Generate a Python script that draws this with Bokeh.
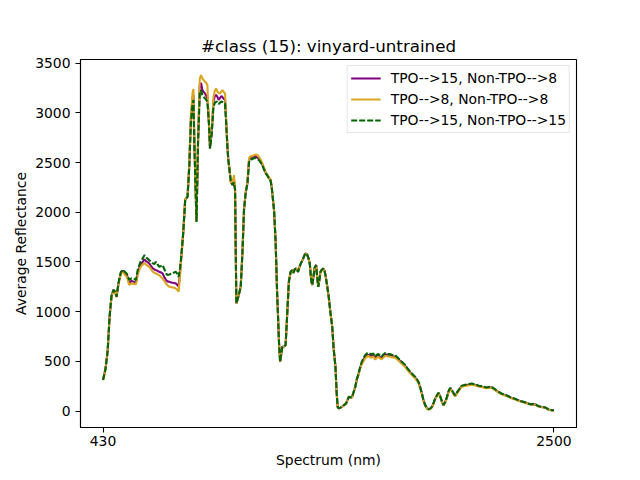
from bokeh.plotting import figure
from bokeh.models import Range1d, FixedTicker, Legend, LegendItem
from bokeh.embed import file_html
from bokeh.resources import INLINE

title_text = "#class (15): vinyard-untrained"
x_label = "Spectrum (nm)"
y_label = "Average Reflectance"
x_ticks = [430, 2500]
y_ticks = [0, 500, 1000, 1500, 2000, 2500, 3000, 3500]
series_names = ["TPO-->15, Non-TPO-->8", "TPO-->8, Non-TPO-->8", "TPO-->15, Non-TPO-->15"]

wavelength = [
    430, 441, 451, 460, 469, 478, 485, 492, 501, 512,
    522, 531, 540, 550, 561, 572, 581, 590, 602, 612,
    620, 629, 642, 650, 658, 666, 673, 680, 688, 696,
    703, 711, 719, 726, 734, 741, 749, 757, 764, 771,
    777, 783, 789, 798, 807, 818, 826, 833, 841, 845,
    849, 859, 866, 874, 880, 886, 892, 898, 904, 909,
    913, 917, 921, 929, 937, 943, 949, 955, 961, 967,
    973, 978, 984, 990, 996, 1001, 1005, 1012, 1016, 1024,
    1031, 1036, 1042, 1051, 1062, 1070, 1077, 1085, 1093, 1100,
    1105, 1115, 1123, 1131, 1138, 1146, 1154, 1161, 1169, 1177,
    1184, 1192, 1199, 1204, 1209, 1215, 1222, 1229, 1238, 1243,
    1253, 1260, 1268, 1276, 1283, 1291, 1298, 1304, 1311, 1318,
    1325, 1332, 1339, 1346, 1353, 1359, 1366, 1373, 1379, 1385,
    1390, 1396, 1401, 1408, 1413, 1418, 1424, 1428, 1434, 1441,
    1447, 1451, 1459, 1466, 1474, 1482, 1489, 1497, 1502, 1507,
    1512, 1520, 1527, 1536, 1546, 1552, 1558, 1565, 1573, 1580,
    1588, 1595, 1603, 1610, 1618, 1625, 1633, 1641, 1648, 1656,
    1664, 1671, 1679, 1686, 1694, 1702, 1709, 1717, 1725, 1732,
    1740, 1748, 1759, 1771, 1782, 1794, 1805, 1817, 1828, 1840,
    1851, 1863, 1871, 1878, 1886, 1894, 1901, 1909, 1917, 1924,
    1932, 1940, 1947, 1955, 1963, 1970, 1976, 1981, 1987, 1993,
    2001, 2009, 2016, 2024, 2030, 2036, 2042, 2047, 2054, 2062,
    2070, 2077, 2088, 2100, 2111, 2123, 2134, 2146, 2156, 2168,
    2179, 2190, 2200, 2212, 2223, 2235, 2246, 2258, 2268, 2280,
    2291, 2302, 2313, 2325, 2335, 2347, 2358, 2370, 2380, 2392,
    2403, 2415, 2421, 2430, 2437, 2445, 2452, 2460, 2467, 2475,
    2483, 2491, 2500,
]

tpo15_non8 = [
    312, 420, 600, 950, 1160, 1220, 1200, 1150, 1285, 1395,
    1410, 1385, 1365, 1290, 1310, 1300, 1290, 1400, 1470, 1500,
    1526, 1505, 1486, 1460, 1435, 1425, 1418, 1410, 1402, 1395,
    1385, 1350, 1318, 1305, 1301, 1295, 1291, 1288, 1284, 1270,
    1251, 1380, 1540, 1790, 2125, 2160, 2480, 2930, 3150, 3180,
    2720, 1904, 2700, 3280, 3300, 3229, 3210, 3196, 3170, 3150,
    3010, 2860, 2643, 2800, 3110, 3170, 3180, 3162, 3130, 3150,
    3170, 3160, 3140, 3140, 2880, 2660, 2530, 2400, 2310, 2280,
    2330, 2230, 1083, 1150, 1250, 1600, 2022, 2200, 2295, 2520,
    2550, 2555, 2560, 2560, 2550, 2540, 2510, 2480, 2440, 2395,
    2375, 2345, 2320, 2257, 2150, 2022, 1720, 1200, 681, 496,
    647, 647, 664, 1000, 1300, 1401, 1418, 1390, 1430, 1435,
    1400, 1450, 1490, 1519, 1560, 1586, 1580, 1540, 1486, 1330,
    1268, 1350, 1440, 1469, 1350, 1250, 1330, 1401, 1420, 1435,
    1410, 1368, 1260, 1150, 990, 848, 620, 446, 200, 43,
    27, 35, 43, 60, 77, 110, 144, 140, 138, 190,
    245, 318, 375, 432, 485, 515, 545, 560, 565, 555,
    555, 560, 535, 550, 560, 545, 535, 555, 570, 568,
    562, 560, 552, 550, 530, 503, 480, 455, 422, 390,
    362, 338, 313, 290, 236, 175, 108, 58, 28, 18,
    23, 41, 78, 125, 157, 181, 157, 125, 88, 58,
    92, 140, 196, 230, 210, 189, 165, 156, 180, 206,
    230, 250, 256, 262, 266, 272, 265, 257, 250, 246,
    240, 234, 238, 240, 226, 207, 191, 175, 166, 158,
    147, 135, 127, 118, 108, 99, 93, 85, 76, 68,
    70, 68, 56, 48, 43, 41, 38, 35, 27, 16,
    11, 9, 7,
]

tpo8_non8 = [
    312, 420, 600, 950, 1155, 1215, 1195, 1145, 1280, 1390,
    1400, 1370, 1350, 1270, 1285, 1280, 1275, 1380, 1450, 1475,
    1490, 1470, 1452, 1430, 1402, 1390, 1385, 1375, 1368, 1350,
    1335, 1310, 1285, 1265, 1251, 1248, 1244, 1240, 1234, 1220,
    1201, 1350, 1530, 1795, 2130, 2165, 2500, 2960, 3200, 3240,
    2750, 1904, 2700, 3340, 3380, 3347, 3330, 3313, 3300, 3280,
    3050, 2870, 2660, 2820, 3160, 3220, 3246, 3213, 3200, 3196,
    3215, 3229, 3210, 3196, 2900, 2680, 2540, 2410, 2300, 2290,
    2374, 2240, 1083, 1150, 1250, 1600, 2022, 2205, 2300, 2540,
    2560, 2565, 2575, 2582, 2575, 2558, 2530, 2495, 2450, 2400,
    2380, 2350, 2330, 2260, 2150, 2022, 1720, 1200, 681, 496,
    647, 647, 664, 1000, 1300, 1401, 1418, 1390, 1430, 1435,
    1400, 1450, 1490, 1519, 1560, 1586, 1580, 1540, 1486, 1330,
    1268, 1350, 1440, 1469, 1350, 1250, 1330, 1401, 1420, 1435,
    1410, 1368, 1260, 1150, 990, 848, 620, 446, 200, 43,
    27, 35, 43, 60, 77, 110, 144, 140, 138, 190,
    245, 315, 370, 425, 475, 500, 530, 545, 556, 540,
    540, 550, 520, 535, 545, 530, 520, 540, 555, 555,
    550, 548, 540, 538, 518, 492, 470, 445, 412, 380,
    355, 330, 305, 285, 232, 172, 105, 55, 26, 16,
    20, 38, 75, 122, 153, 178, 153, 122, 85, 55,
    88, 135, 190, 225, 205, 184, 160, 150, 175, 200,
    225, 245, 250, 255, 260, 266, 260, 252, 245, 242,
    236, 230, 234, 236, 222, 203, 187, 171, 162, 154,
    144, 132, 124, 115, 105, 96, 90, 82, 73, 66,
    68, 66, 54, 46, 41, 39, 36, 33, 25, 15,
    10, 8, 6,
]

tpo15_non15 = [
    312, 420, 600, 950, 1160, 1220, 1200, 1150, 1290, 1400,
    1420, 1400, 1380, 1320, 1335, 1330, 1318, 1430, 1500, 1536,
    1569, 1545, 1519, 1500, 1486, 1480, 1502, 1475, 1452, 1460,
    1469, 1430, 1385, 1370, 1375, 1380, 1385, 1395, 1401, 1380,
    1351, 1430, 1560, 1787, 2122, 2156, 2458, 2894, 3095, 3129,
    2700, 1904, 2693, 3196, 3229, 3179, 3160, 3146, 3130, 3112,
    2990, 2860, 2643, 2794, 3061, 3100, 3112, 3112, 3090, 3102,
    3115, 3110, 3100, 3095, 2860, 2650, 2525, 2400, 2324, 2273,
    2300, 2223, 1083, 1150, 1250, 1600, 2022, 2200, 2290, 2500,
    2530, 2535, 2545, 2545, 2535, 2525, 2500, 2475, 2430, 2391,
    2370, 2340, 2320, 2257, 2150, 2022, 1720, 1200, 681, 496,
    647, 647, 664, 1000, 1300, 1401, 1418, 1390, 1430, 1435,
    1400, 1450, 1490, 1519, 1560, 1586, 1580, 1540, 1486, 1330,
    1268, 1350, 1440, 1469, 1350, 1250, 1330, 1401, 1420, 1435,
    1410, 1368, 1260, 1150, 990, 848, 620, 446, 200, 43,
    27, 35, 43, 60, 77, 110, 144, 140, 138, 190,
    245, 320, 379, 440, 496, 530, 563, 580, 587, 575,
    573, 580, 550, 565, 575, 560, 546, 570, 585, 580,
    575, 573, 565, 563, 540, 513, 490, 463, 430, 396,
    370, 345, 320, 295, 240, 178, 110, 60, 30, 20,
    25, 43, 80, 128, 160, 184, 160, 128, 90, 60,
    95, 144, 200, 234, 215, 194, 170, 161, 185, 211,
    235, 255, 262, 268, 272, 278, 270, 262, 255, 251,
    245, 238, 242, 245, 230, 211, 195, 178, 170, 161,
    150, 138, 130, 121, 110, 101, 95, 87, 78, 70,
    72, 70, 58, 50, 45, 43, 40, 37, 28, 17,
    12, 10, 8,
]

FONT = "DejaVu Sans"

p = figure(width=632, height=472, output_backend="svg", toolbar_location=None,
           x_range=Range1d(326.5, 2603.5), y_range=Range1d(-165, 3537),
           min_border_left=80, min_border_right=56, min_border_top=59,
           min_border_bottom=45)

p.title.text = title_text
p.title.text_font = FONT
p.title.text_font_size = "16.7px"
p.title.text_font_style = "normal"
p.title.text_color = "black"
p.title.align = "center"
p.title.standoff = 8

p.grid.visible = False
p.outline_line_color = "black"
p.outline_line_width = 1.1
p.outline_line_alpha = 1.0
p.background_fill_color = "white"
p.border_fill_color = "white"

p.xaxis.ticker = FixedTicker(ticks=x_ticks)
p.yaxis.ticker = FixedTicker(ticks=y_ticks)
p.xaxis.axis_label = x_label
p.yaxis.axis_label = y_label
for ax in (p.xaxis, p.yaxis):
    ax.axis_line_color = "black"
    ax.axis_line_width = 1.1
    ax.major_tick_line_color = "black"
    ax.major_tick_line_width = 1.1
    ax.major_tick_out = 5
    ax.major_tick_in = 0
    ax.minor_tick_line_color = None
    ax.major_label_text_font = FONT
    ax.major_label_text_font_size = "13.9px"
    ax.major_label_text_color = "black"
    ax.axis_label_text_font = FONT
    ax.axis_label_text_font_size = "13.9px"
    ax.axis_label_text_font_style = "normal"
    ax.axis_label_text_color = "black"
p.xaxis.major_label_standoff = 3
p.xaxis.axis_label_standoff = 3
p.yaxis.major_label_standoff = 5
p.yaxis.axis_label_standoff = 3

r1 = p.line(wavelength, tpo15_non8, line_color="purple", line_width=2.1)
r2 = p.line(wavelength, tpo8_non8, line_color="goldenrod", line_width=2.1)
r3 = p.line(wavelength, tpo15_non15, line_color="darkgreen", line_width=2.1,
            line_dash="6 2")

legend = Legend(items=[LegendItem(label=series_names[0], renderers=[r1]),
                       LegendItem(label=series_names[1], renderers=[r2]),
                       LegendItem(label=series_names[2], renderers=[r3])],
                location="top_right")
legend.margin = 6
legend.padding = 3
legend.spacing = 3
legend.glyph_width = 30
legend.glyph_height = 18
legend.label_height = 18
legend.label_standoff = 10
legend.label_text_font = FONT
legend.label_text_font_size = "13.9px"
legend.label_text_color = "black"
legend.border_line_color = "#cccccc"
legend.border_line_width = 1
legend.background_fill_alpha = 0.8
p.add_layout(legend)

open("out.html", "w").write(file_html(p, INLINE))
